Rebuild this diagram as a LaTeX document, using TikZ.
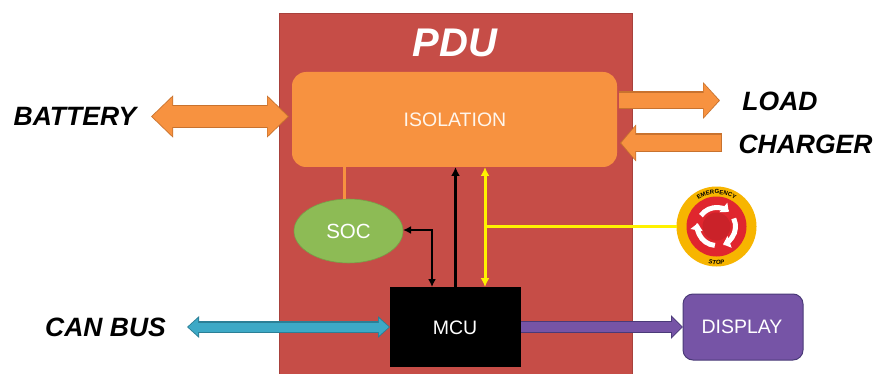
\documentclass[tikz,border=0pt]{standalone}
\usepackage{fontspec}
\setmainfont{Liberation Sans}
\usetikzlibrary{arrows.meta,decorations.text,calc,shapes.geometric}
\definecolor{pdured}{HTML}{C64D47}
\definecolor{orangef}{HTML}{F79240}
\definecolor{oranged}{HTML}{C8722E}
\definecolor{greenf}{HTML}{8DBB55}
\definecolor{bluef}{HTML}{3DA9C6}
\definecolor{blued}{HTML}{2B7F96}
\definecolor{purplef}{HTML}{7654A6}
\definecolor{purpled}{HTML}{4A3A78}
\definecolor{yellowl}{HTML}{FFF200}
\definecolor{stopy}{HTML}{F7B500}
\definecolor{stopr}{HTML}{E0262E}
\tikzset{
  x=1pt,y=-1pt,
  box/.style={inner sep=0pt,outer sep=0pt,text=white},
  biglabel/.style={inner sep=0pt,font=\fontsize{26.5}{30}\selectfont\bfseries\itshape,text=black},
  whitelabel/.style={font=\fontsize{19.5}{22}\selectfont},
  thinblack/.style={line width=2.6pt,black,{Latex[length=8pt,width=8pt]}-{Latex[length=8pt,width=8pt]}},
  yellowline/.style={line width=3pt,yellowl},
}
\begin{document}
\begin{tikzpicture}
\useasboundingbox (0,0) rectangle (877,374);
\fill[white] (0,0) rectangle (877,374);
% main blocks
\node[box,fill=pdured,draw=pdured!85!black,line width=.8pt,minimum width=353pt,minimum height=361pt,anchor=north west] (pdu) at (279,13) {};
\node[box,anchor=center,font=\fontsize{40}{44}\selectfont\bfseries\itshape] (pdutext) at (455,43) {PDU};
\node[box,fill=orangef,rounded corners=14pt,minimum width=325pt,minimum height=95pt,anchor=north west] (isolation) at (292,72) {};
\node[box,whitelabel,text=white!92!orange] (isotext) at (455,119.5) {ISOLATION};
\node[box,fill=greenf,draw=greenf!85!black,line width=.6pt,ellipse,minimum width=109pt,minimum height=64pt] (soc) at (348.5,231) {};
\node[box,font=\fontsize{20.5}{24}\selectfont] (soctext) at (348.5,231.5) {SOC};
\node[box,fill=black,minimum width=131pt,minimum height=80pt,anchor=north west] (mcu) at (390,287) {};
\node[box,whitelabel] (mcutext) at (455,328) {MCU};
\node[box,fill=purplef,draw=purpled,line width=1pt,rounded corners=10pt,minimum width=120pt,minimum height=66pt,anchor=north west] (display) at (683,294) {};
\node[box,whitelabel] (disptext) at (742,327) {DISPLAY};
% labels
\node[biglabel,anchor=center] (battery) at (75,116) {BATTERY};
\node[biglabel,anchor=center] (load) at (780,101) {LOAD};
\node[biglabel,anchor=center] (charger) at (805.5,144) {CHARGER};
\node[biglabel,anchor=center] (canbus) at (105.5,327) {CAN BUS};
% free ends
\coordinate (battend) at (151,116.5);
\coordinate (loadend) at (720,100.5);
\coordinate (chargend) at (722,143);
\coordinate (canend) at (187,327);
% orange block arrows
\draw[line width=23pt,draw=oranged,{Triangle[length=22pt,width=41pt]}-{Triangle[length=22pt,width=41pt]},shorten >=3pt] (battend) -- (isolation.west |- battend);
\draw[line width=20.5pt,draw=orangef,{Triangle[length=20pt,width=37.5pt]}-{Triangle[length=20pt,width=37.5pt]},shorten <=1.3pt,shorten >=4.3pt] (battend) -- (isolation.west |- battend);
\draw[line width=18pt,draw=oranged,-{Triangle[length=17pt,width=36pt]},shorten <=2pt] (isolation.east |- loadend) -- (loadend);
\draw[line width=15.5pt,draw=orangef,-{Triangle[length=15pt,width=32.5pt]},shorten <=2pt,shorten >=1.3pt] (isolation.east |- loadend) -- (loadend);
\draw[line width=19pt,draw=oranged,-{Triangle[length=16pt,width=36pt]},shorten >=3pt] (chargend) -- (isolation.east |- chargend);
\draw[line width=16.5pt,draw=orangef,-{Triangle[length=14pt,width=32.5pt]},shorten <=1.2pt,shorten >=4.3pt] (chargend) -- (isolation.east |- chargend);
% CAN bus
\draw[line width=11.5pt,draw=blued,{Triangle[length=12pt,width=21pt]}-{Triangle[length=12pt,width=21pt]}] (canend) -- (mcu.west);
\draw[line width=9pt,draw=bluef,{Triangle[length=10pt,width=17pt]}-{Triangle[length=10pt,width=17pt]},shorten <=1.2pt,shorten >=1.2pt] (canend) -- (mcu.west);
% display
\draw[line width=12pt,draw=purpled,-{Triangle[length=12pt,width=23pt]}] (mcu.east) -- (display.west);
\draw[line width=9.5pt,draw=purplef,-{Triangle[length=10pt,width=19pt]},shorten >=1.2pt] (mcu.east) -- (display.west);
% SOC links
\coordinate (socline) at (344,167);
\draw[line width=3pt,draw=orangef] (socline |- soc.north) -- (socline);
\coordinate (socmcu) at (432,230);
\draw[thinblack] (soc.east |- socmcu) -- (socmcu) -- (socmcu |- mcu.north);
\draw[line width=3.2pt,black,-{Latex[length=9pt,width=9pt]}] (mcu.north) -- (mcu.north |- isolation.south);
% E-stop
\node[box,circle,fill=stopy,minimum size=80pt] (estop) at (716.5,226.5) {};
\fill[stopr] (estop.center) circle (30pt);
\fill[stopr!90!black] (estop.center) circle (14pt);
\foreach \a in {145,265,25}{
  \draw[white,line width=5pt,-{Triangle[length=7pt,width=12pt]}] ($(estop.center)+(\a:19pt)$) arc[start angle=\a,end angle=\a-95,radius=19pt];
}
\path[decorate,decoration={text along path,text align=center,text={|\fontsize{6}{7}\selectfont\bfseries|EMERGENCY}}] ($(estop.center)+(150:32.5pt)$) arc[start angle=150,end angle=30,radius=32.5pt];
\path[decorate,decoration={text along path,text align=center,text={|\fontsize{6}{7}\selectfont\bfseries\itshape|STOP}}] ($(estop.center)+(235:38pt)$) arc[start angle=235,end angle=305,radius=38pt];
% yellow
\coordinate (yel) at (485,226);
\draw[yellowline,{Latex[length=9pt,width=9pt]}-{Latex[length=9pt,width=9pt]}] (yel |- isolation.south) -- (yel |- mcu.north);
\draw[yellowline] (yel) -- (estop.west |- yel);
\end{tikzpicture}
\end{document}
